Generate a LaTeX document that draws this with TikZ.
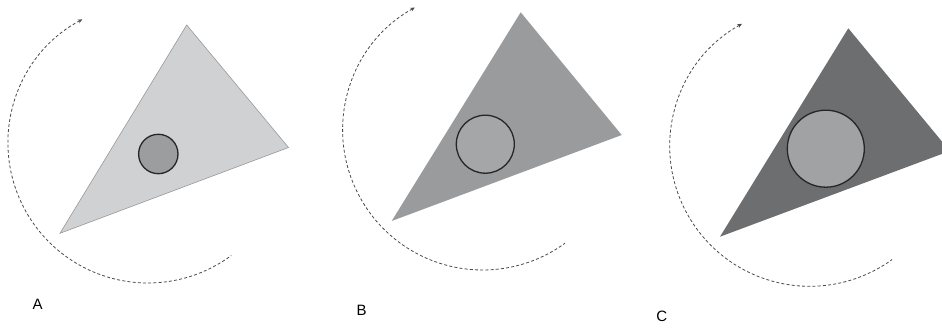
\documentclass[tikz,border=0pt]{standalone}
\usepackage{fontspec}
\setmainfont{Liberation Sans}
\usetikzlibrary{arrows.meta}
\definecolor{triA}{HTML}{D0D1D3}
\definecolor{cirA}{HTML}{9C9D9F}
\definecolor{triB}{HTML}{9A9B9D}
\definecolor{cirB}{HTML}{A5A6A8}
\definecolor{triC}{HTML}{6D6E70}
\definecolor{cirC}{HTML}{A1A2A4}
\definecolor{arcgray}{HTML}{4A4A4A}
\tikzset{
  rotarc/.style={draw=arcgray, line width=0.8pt, dash pattern=on 3pt off 2.2pt, {Stealth[length=4.5pt,width=4pt]}-},
  blob/.style={circle, draw=black!85, line width=1.3pt, inner sep=0pt},
  panellabel/.style={inner sep=0pt, font=\fontsize{15}{18}\selectfont},
}
\begin{document}
\begin{tikzpicture}[x=1pt,y=1pt]
\clip (0,0) rectangle (942,327);
\fill[white] (0,0) rectangle (942,327);
% Panel A
\coordinate (aT) at (186.7,302);
\coordinate (aR) at (288.5,179.5);
\coordinate (aL) at (60,93.7);
\coordinate (aO) at (148,184);
\filldraw[fill=triA, draw=gray!80, line width=0.6pt] (aT) -- (aR) -- (aL) -- cycle;
\node[blob, fill=cirA, minimum size=39.4pt] (aC) at (158.3,173) {};
\draw[rotarc] (aO) ++(118:140) arc[start angle=118, end angle=306.5, radius=140];
\node[panellabel] (aLab) at (37.7,23) {A};
% Panel B
\coordinate (bT) at (520.7,314.7);
\coordinate (bR) at (621.7,192);
\coordinate (bL) at (391.7,106);
\coordinate (bO) at (482.7,197);
\fill[triB] (bT) -- (bR) -- (bL) -- cycle;
\node[blob, fill=cirB, minimum size=58pt] (bC) at (485.3,182.8) {};
\draw[rotarc] (bO) ++(119:140) arc[start angle=119, end angle=306, radius=140];
\node[panellabel] (bLab) at (361.7,17) {B};
% Panel C
\coordinate (cT) at (848.3,298.7);
\coordinate (cR) at (949.8,176);
\coordinate (cL) at (720,90.3);
\coordinate (cO) at (809.8,180.7);
\fill[triC] (cT) -- (cR) -- (cL) -- cycle;
\node[blob, fill=cirC, minimum size=77pt] (cC) at (825.8,178.3) {};
\draw[rotarc] (cO) ++(119:140) arc[start angle=119, end angle=306, radius=140];
\node[panellabel] (cLab) at (661.7,10.3) {C};
\end{tikzpicture}
\end{document}
